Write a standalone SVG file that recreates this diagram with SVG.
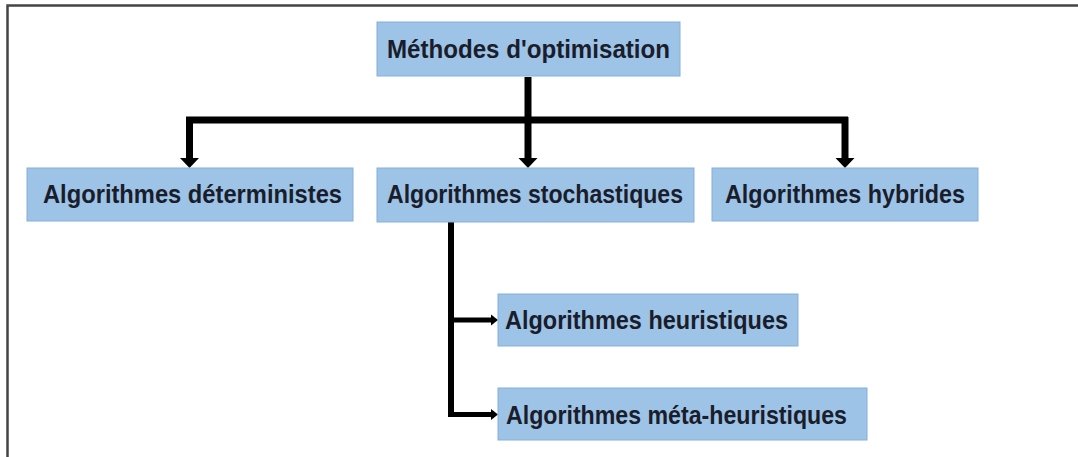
<svg xmlns="http://www.w3.org/2000/svg" width="1078" height="457" viewBox="0 0 1078 457">
  <style>
    .box { fill: #9DC3E6; stroke: #86AEDB; stroke-width: 1; }
    .lbl { font-family: "Liberation Sans", Arial, sans-serif; font-weight: bold; font-size: 25px; fill: #1a1d2b; text-anchor: middle; }
    .con { stroke: #000; fill: none; stroke-linecap: butt; stroke-linejoin: miter; }
    .head { fill: #000; }
  </style>
  <rect x="0" y="0" width="1078" height="457" fill="#ffffff"/>
  <path d="M7.5 457 V5.5 H1078" fill="none" stroke="#444" stroke-width="2.5"/>

  <g id="connectors">
    <path class="con" stroke-width="7" d="M528 77 V120"/>
    <path class="con" stroke-width="7" d="M186 120 H848"/>
    <path class="con" stroke-width="7" d="M189.5 117 V159"/>
    <path class="con" stroke-width="7" d="M528 120 V159"/>
    <path class="con" stroke-width="7" d="M845 117 V159"/>
    <polygon class="head" points="180,158 199,158 189.5,168"/>
    <polygon class="head" points="518.5,158 537.5,158 528,168"/>
    <polygon class="head" points="835.5,158 854.5,158 845,168"/>

    <path class="con" stroke-width="6" d="M451 222 V417"/>
    <path class="con" stroke-width="5" d="M451 320 H492"/>
    <path class="con" stroke-width="5" d="M451 414.5 H492"/>
    <polygon class="head" points="491,314.5 498,320 491,325.5"/>
    <polygon class="head" points="491,409 498,414.5 491,420"/>
  </g>

  <g id="node-methodes">
    <rect class="box" x="377" y="22" width="303" height="54"/>
    <text class="lbl" x="528.5" y="58" textLength="283" lengthAdjust="spacingAndGlyphs">Méthodes d'optimisation</text>
  </g>
  <g id="node-deterministes">
    <rect class="box" x="27" y="168" width="326" height="53"/>
    <text class="lbl" x="192.5" y="203" textLength="299" lengthAdjust="spacingAndGlyphs">Algorithmes déterministes</text>
  </g>
  <g id="node-stochastiques">
    <rect class="box" x="377" y="168" width="317" height="54"/>
    <text class="lbl" x="535" y="203" textLength="296" lengthAdjust="spacingAndGlyphs">Algorithmes stochastiques</text>
  </g>
  <g id="node-hybrides">
    <rect class="box" x="712" y="168" width="266" height="53"/>
    <text class="lbl" x="845" y="203" textLength="240" lengthAdjust="spacingAndGlyphs">Algorithmes hybrides</text>
  </g>
  <g id="node-heuristiques">
    <rect class="box" x="498" y="294" width="300" height="52"/>
    <text class="lbl" x="646.5" y="329" textLength="283" lengthAdjust="spacingAndGlyphs">Algorithmes heuristiques</text>
  </g>
  <g id="node-meta-heuristiques">
    <rect class="box" x="498" y="388" width="369" height="52"/>
    <text class="lbl" x="676.5" y="424" textLength="341" lengthAdjust="spacingAndGlyphs">Algorithmes méta-heuristiques</text>
  </g>
</svg>
